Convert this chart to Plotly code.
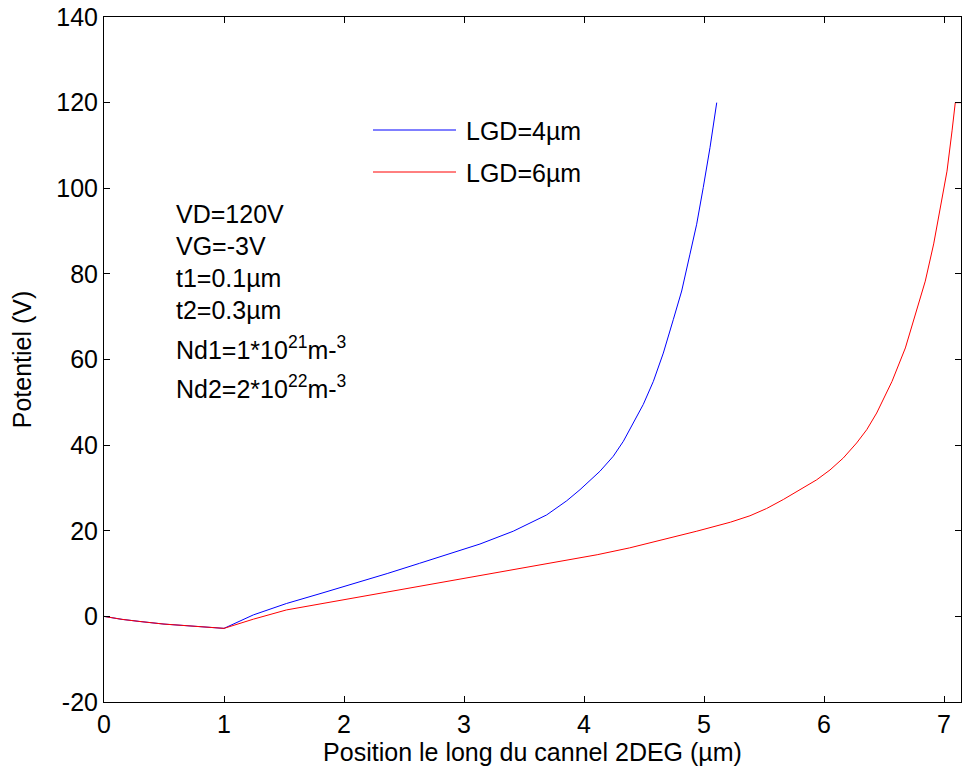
import plotly.graph_objects as go

# Gate-side region (0 to 1 µm), shared by both devices
x_gate = [0.0, 0.15, 0.3, 0.5, 0.7, 0.9, 1.0]
v_gate = [0.0, -0.7, -1.2, -1.8, -2.2, -2.6, -2.8]

# Drift region, LGD = 4 µm
x_lgd4 = [1.245, 1.52, 1.80, 2.08, 2.36, 2.63, 2.91, 3.133, 3.411, 3.689, 3.856,
          3.967, 4.133, 4.244, 4.328, 4.411, 4.494, 4.578, 4.661, 4.744, 4.814,
          4.883, 4.939, 4.994, 5.05, 5.106]
v_lgd4 = [0.35, 3.0, 5.3, 7.6, 10.0, 12.4, 14.9, 16.9, 19.9, 23.7, 27.0,
          29.6, 33.9, 37.4, 40.9, 45.2, 49.5, 54.9, 61.5, 69.3, 76.0,
          84.6, 91.6, 100.2, 109.5, 120.0]

# Drift region, LGD = 6 µm
x_lgd6 = [1.245, 1.52, 1.80, 2.08, 2.36, 2.63, 2.91, 3.19, 3.47, 3.83, 4.11, 4.38,
          4.66, 4.94, 5.22, 5.383, 5.522, 5.661, 5.80, 5.939, 6.05, 6.161, 6.272,
          6.356, 6.439, 6.567, 6.678, 6.761, 6.844, 6.914, 6.969, 7.025, 7.067,
          7.094, 7.20]
v_lgd6 = [-0.65, 1.5, 2.9, 4.3, 5.7, 7.1, 8.5, 9.9, 11.3, 13.1, 14.4, 16.0,
          17.9, 19.9, 22.0, 23.5, 25.2, 27.3, 29.6, 31.9, 34.2, 37.0, 40.5,
          43.6, 47.5, 54.9, 62.7, 70.5, 78.3, 87.0, 95.0, 104.0, 113.4,
          120.0, 120.0]

series_names = ["LGD=4µm", "LGD=6µm"]
series_colors = ["#0000ff", "#ff0000"]

params = ["VD=120V", "VG=-3V", "t1=0.1µm", "t2=0.3µm",
          "Nd1=1*10<sup>21</sup>m-<sup>3</sup>", "Nd2=2*10<sup>22</sup>m-<sup>3</sup>"]

x_ticks = [0, 1, 2, 3, 4, 5, 6, 7]
y_ticks = [-20, 0, 20, 40, 60, 80, 100, 120, 140]
y_ticklabels = ["-20", "0", "20", "40", "60", "80", "100", "120", "140"]

FONT = "Liberation Sans, Arial, sans-serif"
FS = 25

fig = go.Figure()
fig.add_trace(go.Scatter(x=x_gate + x_lgd4, y=v_gate + v_lgd4, mode="lines",
                         name=series_names[0],
                         line=dict(color=series_colors[0], width=1)))
fig.add_trace(go.Scatter(x=x_gate + x_lgd6, y=v_gate + v_lgd6, mode="lines",
                         name=series_names[1],
                         line=dict(color=series_colors[1], width=1)))

W, H = 962, 776
ml, mr, mt, mb = 104, 1, 17, 74
pw, ph = W - ml - mr, H - mt - mb


def px_to_paper(px, py):
    return (px - ml) / pw, 1 - (py - mt) / ph


# parameter block
line_y = [214, 246, 278, 310, 348, 387]
for txt, py in zip(params, line_y):
    xp, yp = px_to_paper(174, py)
    fig.add_annotation(x=xp, y=yp, xref="paper", yref="paper", text=txt,
                       showarrow=False, xanchor="left", yanchor="middle",
                       font=dict(family=FONT, size=FS, color="black"))

# legend
for name, color, py in zip(series_names, series_colors, [130, 172]):
    x0, y0 = px_to_paper(373, py)
    x1, _ = px_to_paper(456, py)
    fig.add_shape(type="line", xref="paper", yref="paper", x0=x0, x1=x1, y0=y0, y1=y0,
                  line=dict(color=color, width=1))
    xt, yt = px_to_paper(464, py + 1)
    fig.add_annotation(x=xt, y=yt, xref="paper", yref="paper", text=name,
                       showarrow=False, xanchor="left", yanchor="middle",
                       font=dict(family=FONT, size=FS, color="black"))

axis_common = dict(showgrid=False, zeroline=False, showline=True, linecolor="black",
                   linewidth=1, mirror="ticks", ticks="inside", ticklen=6,
                   tickcolor="black", tickfont=dict(family=FONT, size=FS, color="black"))

fig.update_xaxes(range=[0, pw / 120.0], tickvals=x_ticks,
                 title=dict(text="Position le long du cannel 2DEG (µm)",
                            font=dict(family=FONT, size=FS, color="black"), standoff=6),
                 **axis_common)
fig.update_yaxes(range=[-20, 140], tickvals=y_ticks, ticktext=y_ticklabels,
                 title=dict(text="Potentiel (V)",
                            font=dict(family=FONT, size=FS, color="black"), standoff=17),
                 **axis_common)

fig.update_layout(width=W, height=H, margin=dict(l=ml, r=mr, t=mt, b=mb),
                  paper_bgcolor="white", plot_bgcolor="white", showlegend=False,
                  font=dict(family=FONT, color="black"))

fig.write_html("out.html")
